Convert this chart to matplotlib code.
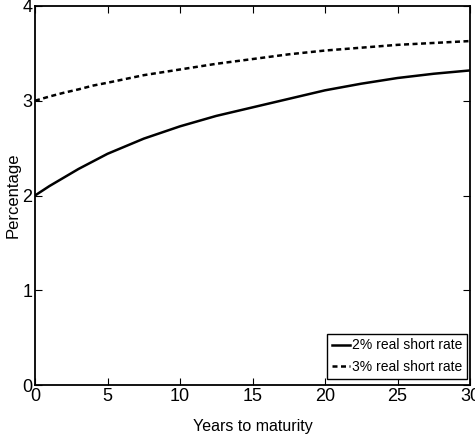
import matplotlib
matplotlib.use("Agg")
import matplotlib.pyplot as plt

years = [0, 1, 2, 3, 4, 5, 7.5, 10, 12.5, 15, 17.5, 20, 22.5, 25, 27.5, 30]
rate_2pct = [2.00, 2.10, 2.19, 2.28, 2.36, 2.44, 2.60, 2.73, 2.84, 2.93, 3.02, 3.11, 3.18, 3.24, 3.285, 3.32]
rate_3pct = [3.00, 3.045, 3.085, 3.12, 3.16, 3.19, 3.27, 3.33, 3.39, 3.44, 3.49, 3.53, 3.56, 3.59, 3.61, 3.63]
labels = ["2% real short rate", "3% real short rate"]
xticks = [0, 5, 10, 15, 20, 25, 30]
yticks = [0, 1, 2, 3, 4]

plt.rcParams["font.family"] = ["Liberation Sans", "DejaVu Sans"]

fig = plt.figure(figsize=(4.75, 4.45), dpi=100)
ax = fig.add_axes([35/475, 60/445, 435/475, 379/445])

ax.plot(years, rate_2pct, color="black", lw=1.8, label=labels[0])
ax.plot(years, rate_3pct, color="black", lw=1.8, linestyle=(0, (2.0, 1.4)), label=labels[1])

ax.set_xlim(0, 30)
ax.set_ylim(0, 4)
ax.set_xticks(xticks)
ax.set_yticks(yticks)
ax.tick_params(direction="in", top=True, right=True, length=5, width=0.8,
               labelsize=13, pad=2)
for s in ax.spines.values():
    s.set_linewidth(1.3)

ax.set_xlabel("Years to maturity", fontsize=11.5, labelpad=10)
ax.set_ylabel("Percentage", fontsize=12, labelpad=1)

leg = ax.legend(loc="lower right", bbox_to_anchor=(0.993, 0.016), borderaxespad=0,
                fontsize=10, handlelength=1.3, handletextpad=0.12, labelspacing=0.55,
                borderpad=0.35, fancybox=False, framealpha=1, edgecolor="black")
leg.get_frame().set_linewidth(1.0)

fig.savefig("out.png", dpi=100)
